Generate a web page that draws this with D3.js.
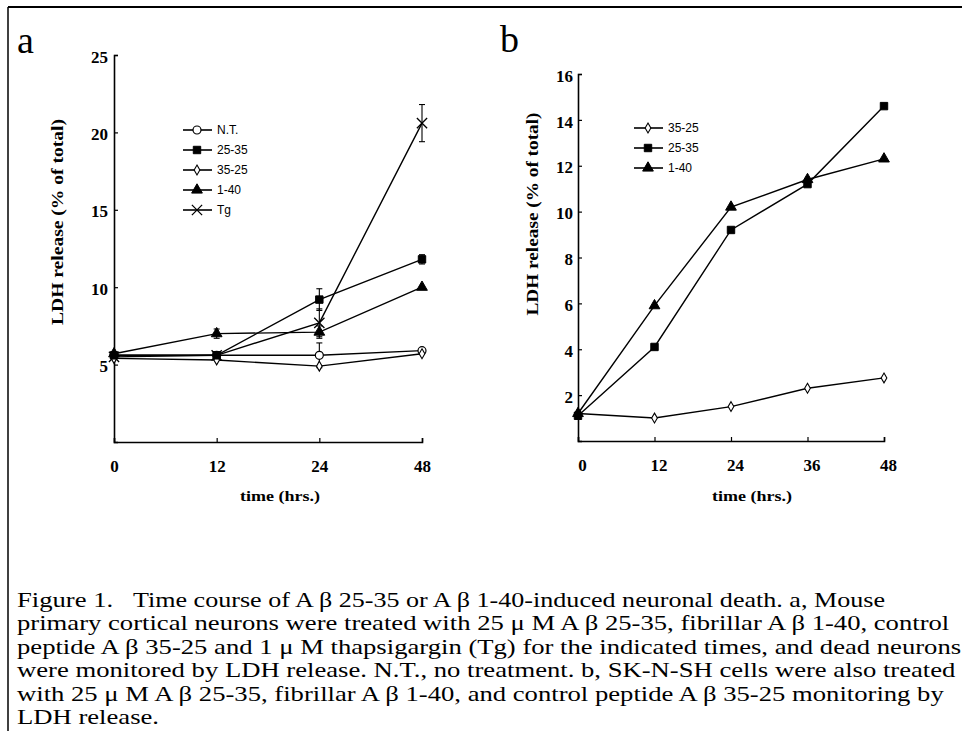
<!DOCTYPE html>
<html>
<head>
<meta charset="utf-8">
<script src="https://cdn.jsdelivr.net/npm/d3@7/dist/d3.min.js"></script>
<style>
  html, body { margin: 0; padding: 0; background: #fff; }
  svg { display: block; }
</style>
</head>
<body>
<svg id="chart" width="962" height="731"></svg>
<script>
// ---------- DATA ----------
// Panel a: mouse primary cortical neurons
const timeA = [0, 12, 24, 48];
const ntA      = [5.6, 5.6, 5.6, 5.9];
const ab2535A  = [5.6, 5.6, 9.2, 11.8];
const ab3525A  = [5.4, 5.3, 4.9, 5.7];
const ab140A   = [5.7, 7.0, 7.1, 10.0];
const tgA      = [5.5, 5.6, 7.7, 20.6];
const ntErrA     = [0.2, 0.2, 0.8, 0.2];
const ab2535ErrA = [0.2, 0.2, 0.7, 0.3];
const ab3525ErrA = [0.1, 0.1, 0.2, 0.2];
const ab140ErrA  = [0.2, 0.3, 0.4, 0.2];
const tgErrA     = [0.2, 0.2, 0.9, 1.2];
const yTicksA = [5, 10, 15, 20, 25];
const legendA = ["N.T.", "25-35", "35-25", "1-40", "Tg"];

// Panel b: SK-N-SH cells
const timeB = [0, 12, 24, 36, 48];
const ab3525B = [1.2, 1.0, 1.5, 2.3, 2.75];
const ab2535B = [1.1, 4.1, 9.2, 11.2, 14.6];
const ab140B  = [1.2, 5.9, 10.2, 11.4, 12.3];
const yTicksB = [2, 4, 6, 8, 10, 12, 14, 16];
const legendB = ["35-25", "25-35", "1-40"];

const yTitle = "LDH release (% of total)";
const xTitle = "time (hrs.)";
const captionLines = [
  "primary cortical neurons were treated with 25 \u03bc M A \u03b2 25-35, fibrillar A \u03b2 1-40, control",
  "peptide A \u03b2 35-25 and 1 \u03bc M thapsigargin (Tg) for the indicated times, and dead neurons",
  "were monitored by LDH release. N.T., no treatment. b, SK-N-SH cells were also treated",
  "with 25 \u03bc M A \u03b2 25-35, fibrillar A \u03b2 1-40, and control peptide A \u03b2 35-25 monitoring by",
  "LDH release."
];
const captionHead = "Figure 1.";
const captionFirst = "Time course of A \u03b2 25-35 or A \u03b2 1-40-induced neuronal death. a, Mouse";

// ---------- DRAW ----------
const svg = d3.select("#chart");
const serif = "'Liberation Serif','Times New Roman',Times,serif";
const sans = "'Liberation Sans',Arial,sans-serif";

// frame
svg.append("line").attr("x1", 8).attr("x2", 962).attr("y1", 7).attr("y2", 7)
  .attr("stroke", "#000").attr("stroke-width", 2);
svg.append("line").attr("x1", 8).attr("x2", 8).attr("y1", 7).attr("y2", 731)
  .attr("stroke", "#000").attr("stroke-width", 1.5);

const sym = {
  circle: d3.symbol().type(d3.symbolCircle).size(50),
  smallCircle: d3.symbol().type(d3.symbolDiamond).size(28),
  square: d3.symbol().type(d3.symbolSquare).size(55),
  triangle: d3.symbol().type(d3.symbolTriangle).size(50),
  x: d3.symbol().type(d3.symbolTimes || d3.symbolX).size(70)
};
const markerStyle = {
  circle: {fill: "#fff", stroke: "#000", sw: 1.2},
  smallCircle: {fill: "#fff", stroke: "#000", sw: 1.1},
  square: {fill: "#000", stroke: "#000", sw: 1},
  triangle: {fill: "#000", stroke: "#000", sw: 1},
  x: {fill: "none", stroke: "#000", sw: 1.3}
};

function drawMarker(g, kind, x, y) {
  const st = markerStyle[kind];
  g.append("path").attr("d", sym[kind]())
    .attr("transform", `translate(${x},${y})`)
    .attr("fill", st.fill).attr("stroke", st.stroke).attr("stroke-width", st.sw);
}

function drawPanel(opts) {
  const g = svg.append("g");
  const {x, y, series, xTicks, yTicks, xLabelDx} = opts;
  // axes
  const yAxis = d3.axisLeft(y).tickValues(yTicks).tickSize(-4).tickPadding(opts.yPad);
  const ya = g.append("g").attr("transform", `translate(${opts.x0},0)`).call(yAxis);
  const xAxis = d3.axisBottom(x).tickValues(xTicks).tickSize(-4).tickPadding(18);
  const xa = g.append("g").attr("transform", `translate(0,${opts.y0})`).call(xAxis);
  [ya, xa].forEach(a => {
    a.select(".domain").attr("stroke-width", 1.6).attr("stroke", "#000");
    a.selectAll(".tick line").attr("stroke-width", 1.2).attr("stroke", "#000");
    a.selectAll("text").style("font-family", serif).attr("font-weight", "bold")
      .attr("font-size", 17).attr("fill", "#000");
  });
  xa.selectAll("text").attr("dx", xLabelDx);
  ya.selectAll("text").attr("dy", "0.42em");

  // series
  series.forEach(s => {
    const pts = s.values.map((v, i) => [x(s.time[i]), y(v)]);
    g.append("path").attr("d", d3.line()(pts)).attr("fill", "none")
      .attr("stroke", "#000").attr("stroke-width", 1.4);
    if (s.err) {
      s.values.forEach((v, i) => {
        const e = s.err[i];
        if (e < 0.3) return;
        const cx = x(s.time[i]);
        const y1 = y(v + e), y2 = y(v - e);
        g.append("line").attr("x1", cx).attr("x2", cx).attr("y1", y1).attr("y2", y2)
          .attr("stroke", "#000").attr("stroke-width", 1.1);
        [y1, y2].forEach(yy => g.append("line").attr("x1", cx - 3).attr("x2", cx + 3)
          .attr("y1", yy).attr("y2", yy).attr("stroke", "#000").attr("stroke-width", 1.1));
      });
    }
    pts.forEach(p => drawMarker(g, s.kind, p[0], p[1]));
  });

  // legend
  opts.legend.forEach((lab, i) => {
    const ly = opts.legY + i * opts.legStep;
    g.append("line").attr("x1", opts.legX).attr("x2", opts.legX + 29)
      .attr("y1", ly).attr("y2", ly).attr("stroke", "#000").attr("stroke-width", 1.6);
    drawMarker(g, opts.legKinds[i], opts.legX + 14, ly);
    g.append("text").attr("x", opts.legX + 34).attr("y", ly).attr("dy", "0.36em")
      .style("font-family", sans).attr("font-size", 12).text(lab);
  });

  // titles
  g.append("text").attr("transform", `translate(${opts.ytX},${opts.ytY}) rotate(-90)`)
    .attr("text-anchor", "middle").style("font-family", serif).attr("font-weight", "bold")
    .attr("font-size", 16).attr("textLength", opts.ytLen).attr("lengthAdjust", "spacingAndGlyphs")
    .text(yTitle);
  g.append("text").attr("x", opts.xtX).attr("y", 501).attr("text-anchor", "middle")
    .style("font-family", serif).attr("font-weight", "bold").attr("font-size", 15)
    .attr("textLength", 80).attr("lengthAdjust", "spacingAndGlyphs").text(xTitle);
  g.append("text").attr("x", opts.letterX).attr("y", opts.letterY)
    .style("font-family", serif).attr("font-size", 38).text(opts.letter);
}

// Panel a
const xA = d3.scalePoint().domain(timeA).range([114, 422]);
const yA = d3.scaleLinear().domain([0, 25]).range([442, 55]);
drawPanel({
  x: xA, y: yA, x0: 114, y0: 442, yPad: 6, xLabelDx: 0,
  xTicks: timeA, yTicks: yTicksA,
  series: [
    {time: timeA, values: ntA, err: ntErrA, kind: "circle"},
    {time: timeA, values: ab3525A, err: ab3525ErrA, kind: "smallCircle"},
    {time: timeA, values: ab140A, err: ab140ErrA, kind: "triangle"},
    {time: timeA, values: ab2535A, err: ab2535ErrA, kind: "square"},
    {time: timeA, values: tgA, err: tgErrA, kind: "x"}
  ],
  legend: legendA, legKinds: ["circle", "square", "smallCircle", "triangle", "x"],
  legX: 183, legY: 130, legStep: 20,
  ytX: 63, ytY: 222, ytLen: 206, xtX: 280,
  letter: "a", letterX: 17, letterY: 53
});

// Panel b
const xB = d3.scaleLinear().domain([0, 48]).range([578, 884]);
const yB = d3.scaleLinear().domain([0, 16]).range([441, 74]);
drawPanel({
  x: xB, y: yB, x0: 578, y0: 441, yPad: 5, xLabelDx: 4,
  xTicks: timeB, yTicks: yTicksB,
  series: [
    {time: timeB, values: ab3525B, kind: "smallCircle"},
    {time: timeB, values: ab2535B, kind: "square"},
    {time: timeB, values: ab140B, kind: "triangle"}
  ],
  legend: legendB, legKinds: ["smallCircle", "square", "triangle"],
  legX: 634, legY: 128, legStep: 20,
  ytX: 538, ytY: 214, ytLen: 203, xtX: 752,
  letter: "b", letterX: 500, letterY: 52
});

// caption (scanned text is wider than the font's natural proportions)
const capScale = 1.24;
const cap = svg.append("g").attr("transform", `translate(17,0) scale(${capScale},1)`)
  .style("font-family", serif).attr("font-size", 21.5).attr("fill", "#000");
const capY0 = 607, capStep = 23.4;
cap.append("text").attr("x", 0).attr("y", capY0).text(captionHead);
cap.append("text").attr("x", (133 - 17) / capScale).attr("y", capY0)
  .attr("textLength", (885 - 133) / capScale).attr("lengthAdjust", "spacingAndGlyphs")
  .text(captionFirst);
captionLines.forEach((t, i) => {
  cap.append("text").attr("x", 0).attr("y", capY0 + (i + 1) * capStep).text(t);
});
</script>
</body>
</html>
